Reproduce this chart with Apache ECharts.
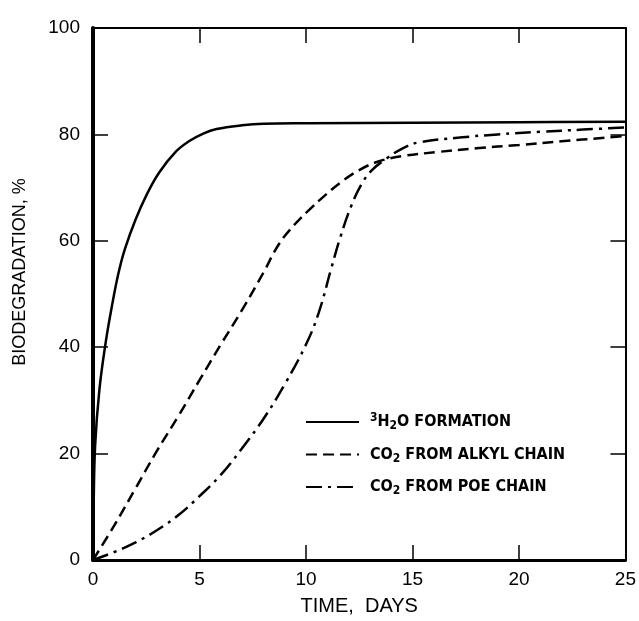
<!DOCTYPE html>
<html>
<head>
<meta charset="utf-8">
<script src="https://cdn.jsdelivr.net/npm/echarts@6/dist/echarts.min.js"></script>
<style>
  html, body { margin: 0; padding: 0; background: #fff; }
  #chart { width: 639px; height: 621px; }
</style>
</head>
<body>
<div id="chart"></div>
<script>
// 读图得到的数据 [天, %]
const waterFormation = [
  [0, 0], [0.03, 10], [0.1, 21.5], [0.3, 32], [0.6, 41], [0.9, 48], [1.2, 54],
  [1.5, 58.5], [2, 64], [2.5, 68.5], [3.1, 72.8], [3.9, 76.8], [4.5, 78.7],
  [5.2, 80.2], [5.8, 81], [7, 81.7], [8, 82], [10, 82.1], [15, 82.2],
  [20, 82.3], [25, 82.4]
]
const co2Alkyl = [
  [0, 0], [1, 6.5], [2, 13.5], [3, 20.5], [4, 27], [5, 33.8], [6, 40.5],
  [7, 47], [8, 54], [8.75, 59.5], [9.5, 63.2], [10.2, 66], [10.8, 68.2],
  [11.6, 70.9], [12.5, 73.3], [13.4, 74.9], [14.5, 75.9], [16.2, 76.7],
  [18, 77.4], [20, 78], [22, 78.7], [25, 79.7]
]
const co2Poe = [
  [0, 0], [1, 1.5], [2, 3.3], [3, 5.6], [4, 8.4], [5, 12], [6, 16],
  [7, 21], [8, 26.5], [9, 33], [10, 40.5], [10.6, 46.5], [11.2, 55],
  [11.6, 60.5], [12.1, 66.3], [12.6, 70.6], [13.1, 73.3], [13.8, 75.5],
  [14.5, 77.3], [15.3, 78.5], [17.2, 79.4], [19, 80], [21, 80.5],
  [23, 80.9], [25, 81.3]
]
const seriesNames = ['3H2O FORMATION', 'CO2 FROM ALKYL CHAIN', 'CO2 FROM POE CHAIN']
const legendLabels = [
  '{sup|3}{t|H}{sub|2}{t|O FORMATION}',
  '{t|CO}{sub|2}{t| FROM ALKYL CHAIN}',
  '{t|CO}{sub|2}{t| FROM POE CHAIN}'
]
const xTicks = [0, 5, 10, 15, 20, 25]
const yTicks = [0, 20, 40, 60, 80, 100]

const chart = echarts.init(document.getElementById('chart'))

const labelFont = { color: '#000', fontSize: 19, fontFamily: 'Liberation Sans, Arial' }
const legendFont = {
  fontFamily: 'DejaVu Sans Condensed, Liberation Sans Narrow, sans-serif',
  fontWeight: 'bold',
  color: '#000'
}

function frameAxis(pos, lineWidth) {
  return {
    type: 'value',
    position: pos,
    axisLine: { show: true, onZero: false, lineStyle: { color: '#000', width: lineWidth } },
    axisTick: { show: true, inside: true, length: 15, lineStyle: { color: '#000', width: 1.5 } },
    splitLine: { show: false },
    axisLabel: { show: false }
  }
}

function lineSeries(idx, data, dash) {
  return {
    name: seriesNames[idx],
    type: 'line',
    data: data,
    symbol: 'none',
    smooth: 0.4,
    itemStyle: { color: '#000' },
    lineStyle: { color: '#000', width: 2.5, type: dash }
  }
}

const option = {
  backgroundColor: '#fff',
  animation: false,
  grid: { left: 93, right: 12, top: 28, bottom: 56 },
  legend: {
    data: seriesNames,
    orient: 'vertical',
    left: 305,
    top: 412,
    padding: 0,
    itemWidth: 53,
    itemHeight: 14,
    itemGap: 14.5,
    itemStyle: { opacity: 0 },
    formatter: (name) => legendLabels[seriesNames.indexOf(name)],
    textStyle: {
      padding: [0, 0, 0, 6],
      rich: {
        t: Object.assign({ fontSize: 16 }, legendFont),
        sub: Object.assign({ fontSize: 12, padding: [8, 0, 0, 0] }, legendFont),
        sup: Object.assign({ fontSize: 12, padding: [0, 0, 8, 0] }, legendFont)
      }
    }
  },
  xAxis: [
    Object.assign(frameAxis('bottom', 3), {
      min: 0, max: 25, interval: 5,
      axisLabel: Object.assign({ show: true, margin: 10, formatter: (v) => xTicks.includes(v) ? String(v) : '' }, labelFont),
      name: 'TIME,  DAYS',
      nameLocation: 'middle',
      nameGap: 36,
      nameTextStyle: { color: '#000', fontSize: 20, fontFamily: 'Liberation Sans, Arial' }
    }),
    Object.assign(frameAxis('top', 2), { min: 0, max: 25, interval: 5 })
  ],
  yAxis: [
    Object.assign(frameAxis('left', 4), {
      min: 0, max: 100, interval: 20,
      axisLabel: Object.assign({ show: true, margin: 13, formatter: (v) => yTicks.includes(v) ? String(v) : '' }, labelFont)
    }),
    Object.assign(frameAxis('right', 2), { min: 0, max: 100, interval: 20 })
  ],
  graphic: [{
    type: 'text',
    x: 20,
    y: 272,
    rotation: Math.PI / 2,
    style: {
      text: 'BIODEGRADATION, %',
      fill: '#000',
      font: '18px Liberation Sans, Arial',
      align: 'center',
      verticalAlign: 'middle'
    }
  }],
  series: [
    lineSeries(0, waterFormation, 'solid'),
    lineSeries(1, co2Alkyl, [11, 6]),
    lineSeries(2, co2Poe, [16, 6, 3, 6])
  ]
}

chart.setOption(option)
</script>
</body>
</html>
